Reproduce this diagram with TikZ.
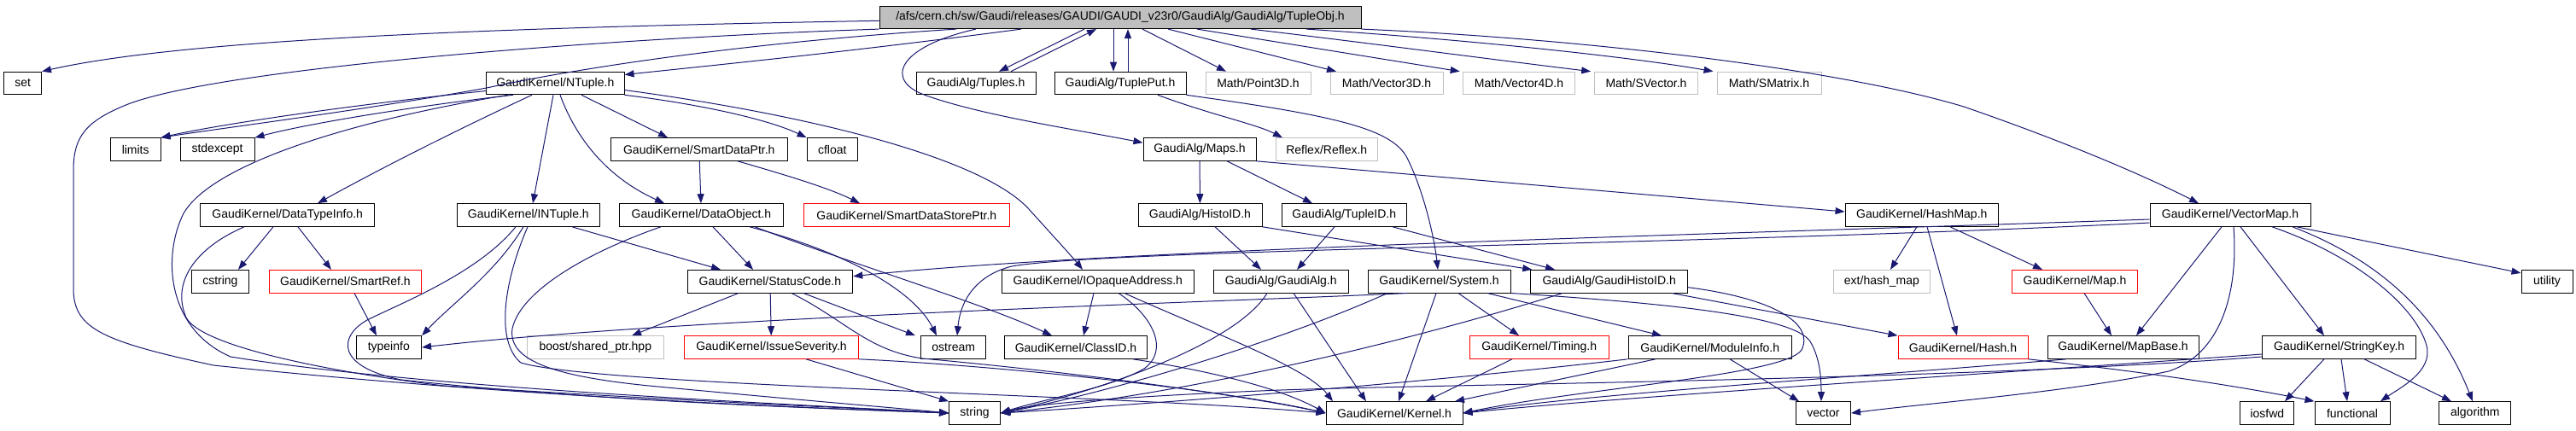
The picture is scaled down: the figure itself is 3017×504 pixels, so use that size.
\documentclass[tikz,border=0pt]{standalone}
\usepackage{fontspec}
\setmainfont{Liberation Sans}
\usetikzlibrary{arrows.meta,calc}
\definecolor{eblue}{HTML}{191970}
\definecolor{lgray}{HTML}{BFBFBF}
\newcommand\dxf{\fontsize{14pt}{16pt}\selectfont}
\tikzset{
  nd/.style={draw=black, line width=1pt, rectangle, minimum height=26.6pt, inner sep=0pt, font=\dxf, text=black},
  rd/.style={nd, draw=red},
  gr/.style={nd, draw=lgray},
  e/.style={draw=eblue, line width=1pt, -{Triangle[length=11pt,width=8pt]}},
}
\begin{document}
\begin{tikzpicture}[x=1pt,y=-1pt]
\useasboundingbox (0,0) rectangle (3017,504);
\fill[white] (0,0) rectangle (3017,504);
% row 0
\node[nd, fill=lgray, minimum width=564pt] (root) at (1312,20.3) {/afs/cern.ch/sw/Gaudi/releases/GAUDI/GAUDI\_v23r0/GaudiAlg/GaudiAlg/TupleObj.h};
% row 1
\node[nd, minimum width=43.7pt] (set) at (26.7,97.5) {set};
\node[nd, minimum width=161.4pt] (NTuple) at (650.3,97.5) {GaudiKernel/NTuple.h};
\node[nd, minimum width=140pt] (Tuples) at (1143,97.5) {GaudiAlg/Tuples.h};
\node[nd, minimum width=154pt] (TuplePut) at (1312,97.5) {GaudiAlg/TuplePut.h};
\node[gr, minimum width=123pt] (Point3D) at (1473.5,97.5) {Math/Point3D.h};
\node[gr, minimum width=132pt] (Vector3D) at (1624,97.5) {Math/Vector3D.h};
\node[gr, minimum width=131.6pt] (Vector4D) at (1779,97.5) {Math/Vector4D.h};
\node[gr, minimum width=120.6pt] (SVector) at (1928,97.5) {Math/SVector.h};
\node[gr, minimum width=122pt] (SMatrix) at (2072,97.5) {Math/SMatrix.h};
% row 2
\node[nd, minimum width=58.6pt] (limits) at (158.7,175) {limits};
\node[nd, minimum width=87pt] (stdexcept) at (254.5,175) {stdexcept};
\node[nd, minimum width=206.4pt] (SmartDataPtr) at (818.8,175) {GaudiKernel/SmartDataPtr.h};
\node[nd, minimum width=59.5pt] (cfloat) at (974.8,175) {cfloat};
\node[nd, minimum width=132pt] (Maps) at (1405,175) {GaudiAlg/Maps.h};
\node[gr, minimum width=118.4pt] (Reflex) at (1553.8,175) {Reflex/Reflex.h};
% row 3
\node[nd, minimum width=204pt] (DataTypeInfo) at (336.7,252) {GaudiKernel/DataTypeInfo.h};
\node[nd, minimum width=166.4pt] (INTuple) at (618.8,252) {GaudiKernel/INTuple.h};
\node[nd, minimum width=192pt] (DataObject) at (821.4,252) {GaudiKernel/DataObject.h};
\node[rd, minimum width=241.6pt] (SmartDataStorePtr) at (1061.8,252) {GaudiKernel/SmartDataStorePtr.h};
\node[nd, minimum width=145pt] (HistoID) at (1405.5,252) {GaudiAlg/HistoID.h};
\node[nd, minimum width=146.6pt] (TupleID) at (1574.3,252) {GaudiAlg/TupleID.h};
\node[nd, minimum width=179.5pt] (HashMap) at (2250.8,252) {GaudiKernel/HashMap.h};
\node[nd, minimum width=188pt] (VectorMap) at (2612,252) {GaudiKernel/VectorMap.h};
% row 4
\node[nd, minimum width=67pt] (cstring) at (257.9,329.7) {cstring};
\node[rd, minimum width=178pt] (SmartRef) at (404.5,329.7) {GaudiKernel/SmartRef.h};
\node[nd, minimum width=193.7pt] (StatusCode) at (901.9,329.7) {GaudiKernel/StatusCode.h};
\node[nd, minimum width=225.6pt] (IOpaqueAddress) at (1285.8,329.7) {GaudiKernel/IOpaqueAddress.h};
\node[nd, minimum width=158.5pt] (GaudiAlg) at (1500.3,329.7) {GaudiAlg/GaudiAlg.h};
\node[nd, minimum width=167pt] (System) at (1685.5,329.7) {GaudiKernel/System.h};
\node[nd, minimum width=183.8pt] (GaudiHistoID) at (1884.7,329.7) {GaudiAlg/GaudiHistoID.h};
\node[gr, minimum width=113.7pt] (ext) at (2203.9,329.7) {ext/hash\_map};
\node[rd, minimum width=146.7pt] (Map) at (2430,329.7) {GaudiKernel/Map.h};
\node[nd, minimum width=60pt] (utility) at (2983,329.7) {utility};
% row 5
\node[nd, minimum width=76.5pt] (typeinfo) at (455.3,407) {typeinfo};
\node[gr, minimum width=160.6pt] (boost) at (697.3,407) {boost/shared\_ptr.hpp};
\node[rd, minimum width=204pt] (IssueSeverity) at (903.5,407) {GaudiKernel/IssueSeverity.h};
\node[nd, minimum width=76pt] (ostream) at (1116.7,407) {ostream};
\node[nd, minimum width=166.3pt] (ClassID) at (1260,407) {GaudiKernel/ClassID.h};
\node[rd, minimum width=163.4pt] (Timing) at (1802.7,407) {GaudiKernel/Timing.h};
\node[nd, minimum width=191.6pt] (ModuleInfo) at (2002.8,407) {GaudiKernel/ModuleInfo.h};
\node[rd, minimum width=152pt] (Hash) at (2299,407) {GaudiKernel/Hash.h};
\node[nd, minimum width=177pt] (MapBase) at (2486.5,407) {GaudiKernel/MapBase.h};
\node[nd, minimum width=180pt] (StringKey) at (2739.7,407) {GaudiKernel/StringKey.h};
% row 6
\node[nd, minimum width=60pt] (string) at (1141.6,484) {string};
\node[nd, minimum width=160pt] (Kernel) at (1633,484) {GaudiKernel/Kernel.h};
\node[nd, minimum width=64pt] (vector) at (2135.5,484) {vector};
\node[nd, minimum width=63pt] (iosfwd) at (2655.4,484) {iosfwd};
\node[nd, minimum width=88pt] (functional) at (2755,484) {functional};
\node[nd, minimum width=84pt] (algorithm) at (2898.8,484) {algorithm};

% ---- edges from root
\draw[e] ($(root.west)+(0,4)$) .. controls (600,32) and (220,45) .. (set.north east);
\draw[e] (root.south west) .. controls (700,45) and (260,80) .. (150,122) .. controls (100,142) and (86,160) .. (86,200) -- (86,340) .. controls (87,385) and (120,400) .. (250,428) .. controls (600,465) and (950,478) .. (string.west);
\draw[e] (root.south -| 1120,0) .. controls (900,48) and (700,75) .. (570,103) .. controls (420,130) and (260,150) .. (limits.north east);
\draw[e] (root.south -| 1196,0) .. controls (1000,60) and (850,75) .. ($(NTuple.east)+(0,-10)$);
\draw[e] (root.south -| 1270,0) -- (Tuples.north -| 1170,0);
\draw[e] (Tuples.north -| 1184,0) -- (root.south -| 1284,0);
\draw[e] (root.south -| 1304,0) -- (TuplePut.north -| 1304,0);
\draw[e] (TuplePut.north -| 1321,0) -- (root.south -| 1321,0);
\draw[e] (root.south -| 1338,0) -- (Point3D.north -| 1436,0);
\draw[e] (root.south -| 1368,0) -- (Vector3D.north -| 1565,0);
\draw[e] (root.south -| 1402,0) -- ($(Vector4D.north west)+(-3,0)$);
\draw[e] (root.south -| 1465,0) .. controls (1600,50) and (1750,70) .. ($(SVector.north west)+(-4,0)$);
\draw[e] (root.south -| 1530,0) .. controls (1700,45) and (1900,65) .. ($(SMatrix.north west)+(-4,0)$);
\draw[e] (root.south east) .. controls (1850,45) and (2150,80) .. (2300,125) .. controls (2430,170) and (2520,210) .. (VectorMap.north -| 2575,0);
\draw[e] (root.south -| 1143,0) .. controls (1050,55) and (1035,95) .. (1085,112) .. controls (1150,135) and (1250,150) .. ($(Maps.north west)+(0,6)$);

% ---- NTuple
\draw[e] ($(NTuple.west)+(0,9)$) .. controls (420,122) and (260,145) .. (limits.north east);
\draw[e] (NTuple.south -| 601,0) .. controls (480,125) and (360,145) .. (stdexcept.north east);
\draw[e] (NTuple.south -| 623,0) .. controls (540,150) and (450,195) .. (DataTypeInfo.north -| 372,0);
\draw[e] (NTuple.south -| 595,0) .. controls (420,140) and (250,190) .. (215,250) .. controls (190,300) and (195,385) .. (270,418) .. controls (500,455) and (900,472) .. (string.west);
\draw[e] (NTuple.south -| 648,0) -- (INTuple.north -| 624,0);
\draw[e] (NTuple.south -| 656,0) .. controls (672,155) and (705,205) .. (DataObject.north -| 778,0);
\draw[e] (NTuple.south -| 681,0) -- (SmartDataPtr.north -| 782,0);
\draw[e] (NTuple.south east) .. controls (820,122) and (900,140) .. (cfloat.north west);
\draw[e] ($(NTuple.east)+(0,8)$) .. controls (950,135) and (1150,185) .. (1205,245) .. controls (1232,275) and (1255,300) .. (IOpaqueAddress.north -| 1268,0);

% ---- SmartDataPtr, Maps, TuplePut
\draw[e] (SmartDataPtr) -- (DataObject);
\draw[e] (SmartDataPtr.south -| 864,0) .. controls (920,205) and (970,220) .. (SmartDataStorePtr.north -| 1007,0);
\draw[e] (Maps) -- (HistoID);
\draw[e] (Maps.south -| 1437,0) -- (TupleID.north -| 1537,0);
\draw[e] (Maps.south east) -- ($(HashMap.west)+(0,-4)$);
\draw[e] (TuplePut.south -| 1356,0) .. controls (1420,135) and (1470,145) .. (Reflex.north -| 1502,0);
\draw[e] (TuplePut.south east) .. controls (1560,135) and (1630,150) .. (1648,185) .. controls (1668,225) and (1680,280) .. (System.north -| 1684,0);

% ---- HistoID, TupleID
\draw[e] (HistoID.south -| 1423,0) -- (GaudiAlg.north -| 1477,0);
\draw[e] (HistoID.south east) -- ($(GaudiHistoID.north west)+(2,0)$);
\draw[e] (TupleID.south -| 1563,0) -- (GaudiAlg.north -| 1519,0);
\draw[e] (TupleID.south -| 1631,0) -- (GaudiHistoID.north -| 1821,0);

% ---- DataTypeInfo, SmartRef, INTuple
\draw[e] (DataTypeInfo.south -| 320,0) -- (cstring.north -| 279,0);
\draw[e] (DataTypeInfo.south -| 349,0) -- (SmartRef.north -| 388,0);
\draw[e] (DataTypeInfo.south -| 286,0) .. controls (230,290) and (200,330) .. (218,372) .. controls (235,405) and (380,435) .. (520,452) .. controls (800,470) and (1000,478) .. (string.west);
\draw[e] (SmartRef.south -| 415,0) -- (typeinfo.north -| 441,0);
\draw[e] (INTuple.south -| 613,0) .. controls (580,320) and (530,355) .. (typeinfo.north east);
\draw[e] (INTuple.south -| 604,0) .. controls (560,320) and (470,355) .. (430,375) .. controls (395,395) and (395,430) .. (470,445) .. controls (700,470) and (950,478) .. (string.west);
\draw[e] (INTuple.south -| 670,0) -- (StatusCode.north -| 844,0);
\draw[e] (INTuple.south -| 618,0) .. controls (590,330) and (580,400) .. (610,425) .. controls (700,452) and (1300,462) .. (Kernel.west);

% ---- DataObject
\draw[e] (DataObject.south -| 835,0) -- (StatusCode.north -| 882,0);
\draw[e] (DataObject.south -| 878,0) .. controls (990,295) and (1070,340) .. (ostream.north -| 1097,0);
\draw[e] (DataObject.south -| 884,0) .. controls (1000,310) and (1150,355) .. (ClassID.north -| 1232,0);
\draw[e] (DataObject.south -| 774,0) .. controls (690,295) and (610,340) .. (600,385) .. controls (595,420) and (640,440) .. (760,452) .. controls (950,470) and (1050,478) .. (string.west);

% ---- StatusCode
\draw[e] (StatusCode.south -| 865,0) -- (boost.north -| 740,0);
\draw[e] (StatusCode) -- (IssueSeverity);
\draw[e] (StatusCode.south -| 941,0) -- (ostream.north -| 1072,0);
\draw[e] (StatusCode.south -| 927,0) .. controls (990,375) and (1015,410) .. (1080,420) .. controls (1300,440) and (1480,468) .. (Kernel.west);

% ---- IssueSeverity, ClassID, IOpaqueAddress
\draw[e] (IssueSeverity.south -| 944,0) -- (string.north west);
\draw[e] (IssueSeverity.south east) .. controls (1200,430) and (1450,460) .. (Kernel.west);
\draw[e] (ClassID.south -| 1327,0) .. controls (1420,435) and (1500,455) .. (Kernel.west);
\draw[e] (IOpaqueAddress.south -| 1281,0) -- (ClassID.north -| 1269,0);
\draw[e] (IOpaqueAddress.south -| 1310,0) .. controls (1350,370) and (1370,410) .. (1340,432) .. controls (1300,455) and (1220,468) .. (string.east);
\draw[e] (IOpaqueAddress.south -| 1317,0) .. controls (1420,390) and (1530,430) .. (Kernel.north -| 1561,0);

% ---- GaudiAlg, System, GaudiHistoID
\draw[e] (GaudiAlg.south -| 1484,0) .. controls (1450,400) and (1300,455) .. (string.east);
\draw[e] (GaudiAlg.south -| 1515,0) -- (Kernel.north -| 1600,0);
\draw[e] (System.south -| 1648,0) .. controls (1400,355) and (800,372) .. (typeinfo.east);
\draw[e] (System.south -| 1625,0) .. controls (1500,400) and (1300,460) .. (string.east);
\draw[e] (System.south -| 1682,0) -- (Kernel.north -| 1638,0);
\draw[e] (System.south -| 1708,0) -- (Timing.north -| 1779,0);
\draw[e] (System.south -| 1742,0) -- (ModuleInfo.north -| 1946,0);
\draw[e] (System.south east) .. controls (1950,355) and (2100,370) .. (2120,400) .. controls (2132,420) and (2133,445) .. (vector.north -| 2133,0);
\draw[e] (GaudiHistoID.south -| 1830,0) .. controls (1650,400) and (1400,460) .. (string.east);
\draw[e] (GaudiHistoID.south -| 1958,0) -- (Hash.north west);
\draw[e] ($(GaudiHistoID.east)+(0,7)$) .. controls (2080,350) and (2125,380) .. (2110,410) .. controls (2090,440) and (1850,455) .. (Kernel.east);

% ---- Timing, ModuleInfo
\draw[e] (Timing.south -| 1771,0) -- (Kernel.north -| 1670,0);
\draw[e] (ModuleInfo.south -| 1939,0) -- (Kernel.north -| 1704,0);
\draw[e] (ModuleInfo.south west) .. controls (1700,445) and (1400,470) .. (string.east);
\draw[e] (ModuleInfo.south -| 2026,0) -- (vector.north -| 2107,0);

% ---- HashMap, Map
\draw[e] (HashMap.south -| 2245,0) -- (ext.north -| 2214,0);
\draw[e] (HashMap.south -| 2257,0) -- (Hash.north -| 2292,0);
\draw[e] (HashMap.south -| 2284,0) -- (Map.north -| 2392,0);
\draw[e] (Map.south -| 2441,0) -- (MapBase.north -| 2473,0);

% ---- VectorMap
\draw[e] ($(VectorMap.west)+(0,5)$) .. controls (2000,275) and (1300,292) .. ($(StatusCode.east)+(0,-6)$);
\draw[e] ($(VectorMap.west)+(0,9)$) .. controls (2000,287) and (1300,292) .. (1185,312) .. controls (1145,322) and (1125,350) .. (ostream.north -| 1121,0);
\draw[e] (VectorMap.south -| 2602,0) -- (MapBase.north -| 2502,0);
\draw[e] (VectorMap.south -| 2616,0) .. controls (2622,345) and (2600,415) .. (2540,435) .. controls (2420,460) and (2260,472) .. (vector.east);
\draw[e] (VectorMap.south -| 2624,0) -- (StringKey.north -| 2722,0);
\draw[e] (VectorMap.south -| 2661,0) .. controls (2760,300) and (2830,360) .. (2842,405) .. controls (2850,435) and (2810,455) .. (functional.north -| 2788,0);
\draw[e] (VectorMap.south -| 2685,0) .. controls (2800,310) and (2860,380) .. (algorithm.north -| 2896,0);
\draw[e] (VectorMap.south -| 2690,0) -- ($(utility.north west)+(0,4)$);

% ---- MapBase, StringKey, Hash
\draw[e] (MapBase.south -| 2420,0) .. controls (2200,440) and (1850,462) .. (Kernel.east);
\draw[e] ($(StringKey.west)+(0,8)$) .. controls (2300,440) and (1900,465) .. (Kernel.east);
\draw[e] ($(StringKey.west)+(0,11)$) .. controls (2300,445) and (1700,450) .. (1500,457) .. controls (1300,465) and (1200,475) .. (string.east);
\draw[e] (StringKey.south -| 2722,0) -- (iosfwd.north -| 2676,0);
\draw[e] (StringKey.south -| 2742,0) -- (functional.north -| 2749,0);
\draw[e] (StringKey.south -| 2769,0) -- (algorithm.north -| 2871,0);
\draw[e] (Hash.south east) .. controls (2550,440) and (2650,458) .. (functional.north west);
\end{tikzpicture}
\end{document}
